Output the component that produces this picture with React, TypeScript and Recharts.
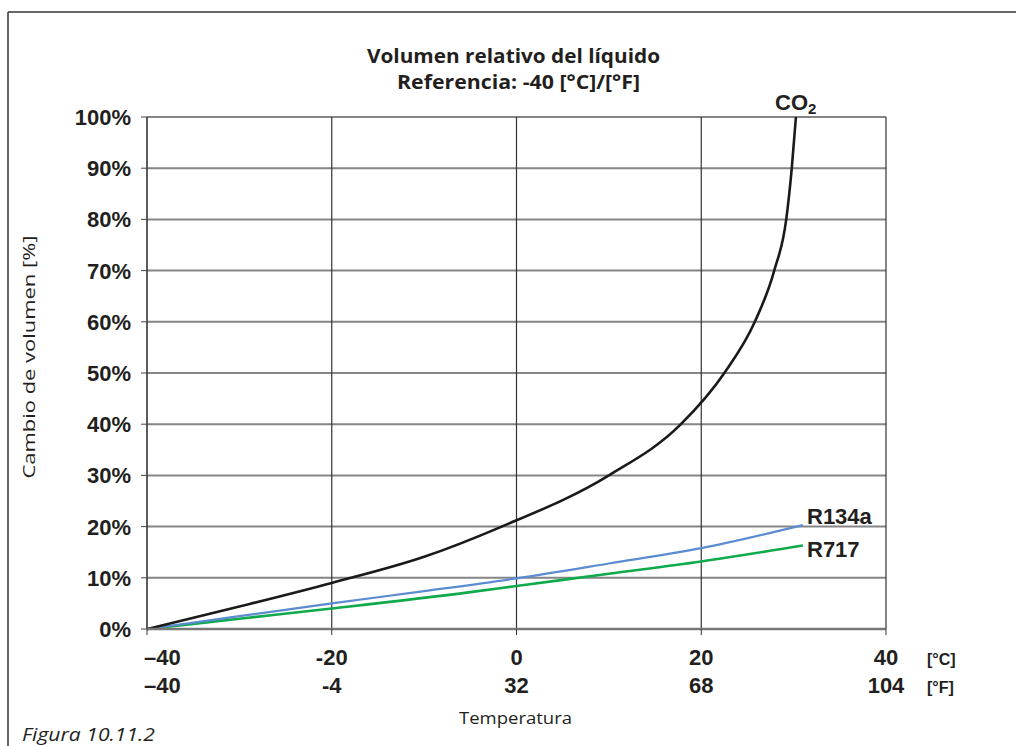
import React from 'react';
import { LineChart, Line, XAxis, YAxis, CartesianGrid } from 'recharts';

// temperatures in °C and % volume change
const co2Temp = [-40, -30, -20, -10, -1.6, 10.0, 17.8, 22.5, 25.8, 27.9, 29.2, 29.8, 30.25];
const co2Pct = [0, 4.4, 9.0, 14.1, 20, 30, 40, 50, 60, 70, 80, 90, 100];

const r134aTemp = [-40, -30, -20, -10, 0, 10, 20, 31];
const r134aPct = [0, 2.5, 5.0, 7.4, 9.9, 12.8, 15.8, 20.3];

const r717Temp = [-40, -30, -20, -5, 0, 10, 20, 31];
const r717Pct = [0, 2.0, 4.0, 7.2, 8.4, 10.8, 13.2, 16.3];

const xTicks = [-40, -20, 0, 20, 40];
const celsiusLabels = ['–40', '-20', '0', '20', '40'];
const fahrenheitLabels = ['–40', '-4', '32', '68', '104'];
const yTicks = [0, 10, 20, 30, 40, 50, 60, 70, 80, 90, 100];

const toPoints = (t: number[], v: number[]) => t.map((x, i) => ({ t: x, v: v[i] }));

const TICK_FONT = 'Liberation Sans, Arial, sans-serif';
const INK = '#231f20';

const XTick = (props: any) => {
  const { x, y, payload } = props;
  const i = xTicks.indexOf(payload.value);
  const first = i === 0;
  return (
    <g>
      <text x={first ? x - 3 : x} y={y + 30} textAnchor={first ? 'start' : 'middle'}
        fontFamily={TICK_FONT} fontWeight="bold" fontSize={22} fill={INK}>
        {celsiusLabels[i]}
      </text>
      <text x={first ? x - 3 : x} y={y + 58} textAnchor={first ? 'start' : 'middle'}
        fontFamily={TICK_FONT} fontWeight="bold" fontSize={22} fill={INK}>
        {fahrenheitLabels[i]}
      </text>
    </g>
  );
};

const YTick = (props: any) => {
  const { x, y, payload } = props;
  return (
    <text x={x} y={y} dy="0.36em" textAnchor="end"
      fontFamily={TICK_FONT} fontWeight="bold" fontSize={22} fill={INK}>
      {payload.value}%
    </text>
  );
};

export default function App() {
  return (
    <div style={{ position: 'absolute', left: 0, top: 0, width: 1016, height: 746, background: '#fff', overflow: 'hidden' }}>
      <LineChart width={1016} height={746} margin={{ top: 117, right: 130, bottom: 37, left: 77 }}>
        <CartesianGrid horizontal vertical={false} stroke="#858585" strokeWidth={2} />
        <CartesianGrid horizontal={false} vertical stroke="#333" strokeWidth={1.2} />
        <XAxis type="number" dataKey="t" domain={[-40, 40]} ticks={xTicks} height={80}
          axisLine={{ stroke: '#777', strokeWidth: 2.5 }} tickLine={{ stroke: '#333' }}
          tickSize={6} tickMargin={0} tick={<XTick />} allowDataOverflow />
        <YAxis type="number" dataKey="v" domain={[0, 100]} ticks={yTicks} width={70}
          axisLine={{ stroke: '#444', strokeWidth: 1.2 }} tickLine={{ stroke: '#444' }}
          tickSize={6} tickMargin={10} tick={<YTick />} />
        <Line data={toPoints(r717Temp, r717Pct)} dataKey="v" type="monotone" stroke="#0faa4b"
          strokeWidth={2.6} dot={false} isAnimationActive={false} />
        <Line data={toPoints(r134aTemp, r134aPct)} dataKey="v" type="monotone" stroke="#5b8bd0"
          strokeWidth={2.2} dot={false} isAnimationActive={false} />
        <Line data={toPoints(co2Temp, co2Pct)} dataKey="v" type="monotone" stroke="#1a1a1a"
          strokeWidth={2.6} dot={false} isAnimationActive={false} />
      </LineChart>

      <svg width={1016} height={746} style={{ position: 'absolute', left: 0, top: 0, pointerEvents: 'none' }}>
        <line x1={8} y1={12} x2={1016} y2={12} stroke="#333" strokeWidth={1.5} />
        <line x1={8} y1={12} x2={8} y2={746} stroke="#333" strokeWidth={1.5} />

        <text x={367} y={63} textLength={293} lengthAdjust="spacingAndGlyphs"
          fontFamily="Open Sans, sans-serif" fontWeight="bold" fontSize={20} fill={INK}>
          Volumen relativo del líquido
        </text>
        <text x={397} y={89} textLength={243} lengthAdjust="spacingAndGlyphs"
          fontFamily="Open Sans, sans-serif" fontWeight="bold" fontSize={20} fill={INK}>
          Referencia: -40 [°C]/[°F]
        </text>

        <text transform="translate(35 357) rotate(-90)" textAnchor="middle" textLength={243}
          lengthAdjust="spacingAndGlyphs" fontFamily="Open Sans, sans-serif" fontSize={17} fill={INK}>
          Cambio de volumen [%]
        </text>

        <text x={459} y={724} textLength={113} lengthAdjust="spacingAndGlyphs"
          fontFamily="Open Sans, sans-serif" fontSize={16} fill={INK}>
          Temperatura
        </text>

        <text x={22} y={741} textLength={133} lengthAdjust="spacingAndGlyphs"
          fontFamily="Open Sans, sans-serif" fontStyle="italic" fontSize={19} fill={INK}>
          Figura 10.11.2
        </text>

        <text x={927} y={665} fontFamily={TICK_FONT} fontWeight="bold" fontSize={16} fill={INK}>[°C]</text>
        <text x={927} y={693} fontFamily={TICK_FONT} fontWeight="bold" fontSize={16} fill={INK}>[°F]</text>

        <text x={775} y={110} fontFamily={TICK_FONT} fontWeight="bold" fontSize={22} fill={INK}>
          CO<tspan fontSize={15} dy={4}>2</tspan>
        </text>
        <text x={807} y={524} fontFamily={TICK_FONT} fontWeight="bold" fontSize={22} fill={INK}>R134a</text>
        <text x={807} y={557} fontFamily={TICK_FONT} fontWeight="bold" fontSize={22} fill={INK}>R717</text>
      </svg>
    </div>
  );
}
